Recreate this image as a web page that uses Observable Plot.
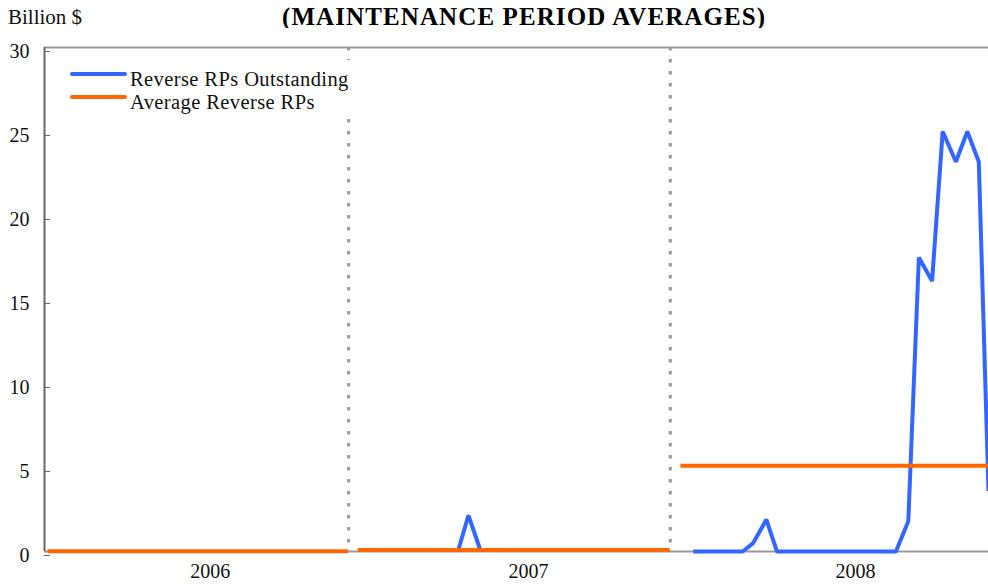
<!DOCTYPE html>
<html>
<head>
<meta charset="utf-8">
<script src="https://cdn.jsdelivr.net/npm/d3@7"></script>
<script src="https://cdn.jsdelivr.net/npm/@observablehq/plot@0.6"></script>
<style>
  body { margin: 0; background: #fff; font-family: "Liberation Serif", "DejaVu Serif", serif; }
  #wrap { position: relative; width: 988px; height: 586px; overflow: hidden; }
  #unit { position: absolute; left: 8px; top: 7px; font-size: 21px; line-height: 21px; color: #111; }
  #title { position: absolute; left: 282px; top: 4px; font-size: 25px; line-height: 25px; font-weight: bold; letter-spacing: 1.1px; color: #000; white-space: nowrap; }
  #chart { position: absolute; left: 0; top: 28px; }
  #chart svg text { font-family: "Liberation Serif", "DejaVu Serif", serif; }
  #legend { position: absolute; left: 60px; top: 60px; width: 302px; height: 55px; background: #fff; z-index: 2; }
  .sw { position: absolute; left: 10px; width: 57px; height: 4px; }
  .lt { position: absolute; left: 70px; font-size: 20.5px; line-height: 21px; letter-spacing: 0.4px; color: #111; white-space: nowrap; }
</style>
</head>
<body>
<div id="wrap">
  <div id="unit">Billion $</div>
  <div id="title">(MAINTENANCE PERIOD AVERAGES)</div>
  <div id="chart"></div>
  <div id="legend"></div>
</div>
<script>
// ---- data ----
const seriesNames = ["Reverse RPs Outstanding", "Average Reverse RPs"];
const seriesColors = ["#3366ff", "#ff6600"];

// Reverse RPs outstanding (billion $)
const blueDates = ["2007-05-05", "2007-05-17", "2007-05-31",
  "2008-01-27", "2008-03-23", "2008-04-04", "2008-04-19", "2008-05-01",
  "2008-09-13", "2008-09-27", "2008-10-09", "2008-10-24", "2008-11-05",
  "2008-11-20", "2008-12-03", "2008-12-16", "2008-12-27"];
const blueValues = [0, 2.15, 0,
  0, 0, 0.5, 1.9, 0,
  0, 1.8, 17.5, 16.1, 25.0,
  23.2, 25.0, 23.2, 3.6];
const blueSegment = [2007, 2007, 2007,
  2008, 2008, 2008, 2008, 2008, 2008, 2008, 2008, 2008, 2008, 2008, 2008, 2008, 2008];

// Yearly averages
const avgYears = [2006, 2007, 2008];
const avgStart = ["2006-01-25", "2007-01-12", "2008-01-13"];
const avgEnd = ["2007-01-01", "2008-01-01", "2008-12-27"];
const avgValues = [0.02, 0.09, 5.1];

// Axes
const xDomain = ["2006-01-21", "2008-12-27"];
const yearDividers = ["2007-01-01", "2008-01-01"];
const yearLabelDates = ["2006-07-28", "2007-07-24", "2008-07-29"];
const yTicks = [0, 5, 10, 15, 20, 25, 30];

// ---- build ----
const D = s => new Date(s);
const blue = blueDates.map((d, i) => ({date: D(d), value: blueValues[i], seg: blueSegment[i]}));
const avg = avgYears.map((y, i) => ({year: y, x1: D(avgStart[i]), x2: D(avgEnd[i]), value: avgValues[i]}));

const chart = Plot.plot({
  width: 988,
  height: 558,
  marginTop: 19,
  marginBottom: 35,
  marginLeft: 44,
  marginRight: 0,
  style: {fontFamily: "'Liberation Serif', 'DejaVu Serif', serif", fontSize: "20px", color: "#111", background: "#fff"},
  x: {type: "utc", domain: xDomain.map(D)},
  y: {domain: [0, 30]},
  marks: [
    Plot.ruleY([0], {stroke: "#999", strokeWidth: 2}),
    Plot.ruleX(yearDividers.map(D), {stroke: "#999", strokeWidth: 3, strokeDasharray: "3.5,8.5"}),
    Plot.line(blue, {x: "date", y: "value", z: "seg", stroke: seriesColors[0], strokeWidth: 4, strokeLinejoin: "miter", strokeLinecap: "butt"}),
    Plot.ruleY(avg, {y: "value", x1: "x1", x2: "x2", stroke: seriesColors[1], strokeWidth: 4}),
    Plot.ruleY([30], {stroke: "#999", strokeWidth: 2}),
    Plot.ruleX([D(xDomain[0])], {stroke: "#666", strokeWidth: 2}),
    Plot.axisY({ticks: yTicks, tickSize: -6, tickPadding: 21, stroke: "#666", dy: 4, fontSize: 20, label: null, tickFormat: d => String(d)}),
    Plot.axisX({ticks: yearLabelDates.map(D), tickFormat: d3.utcFormat("%Y"), tickSize: 0, tickPadding: 12, fontSize: 20, label: null})
  ]
});
document.getElementById("chart").appendChild(chart);

// legend
const legend = document.getElementById("legend");
const swY = [14, 37];   // swatch centres inside legend box
const txtTop = [9, 32];
seriesNames.forEach((name, i) => {
  const sw = document.createElement("div");
  sw.className = "sw";
  sw.style.top = (swY[i] - 2) + "px";
  sw.style.background = seriesColors[i];
  sw.style.borderRadius = "2px";
  legend.appendChild(sw);
  const t = document.createElement("div");
  t.className = "lt";
  t.style.top = txtTop[i] + "px";
  t.textContent = name;
  legend.appendChild(t);
});
</script>
</body>
</html>
